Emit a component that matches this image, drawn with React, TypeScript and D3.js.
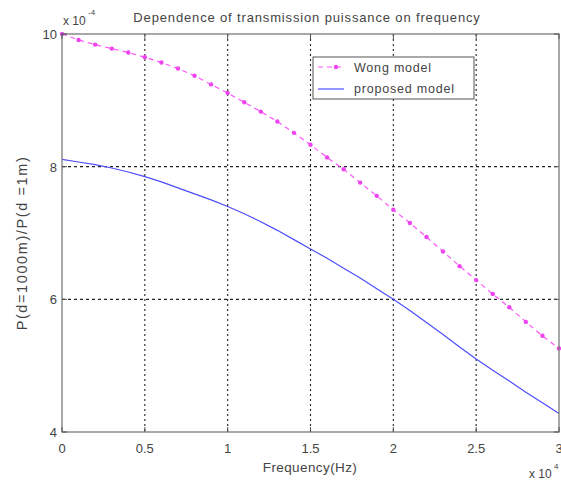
import React from "react";
import * as d3 from "d3";

// Frequency samples (×10^4 Hz) and power ratios (×10^-4)
const freq: number[] = d3.range(0, 31).map((i) => i / 10);
const wongModel: number[] = [
  10.0, 9.91, 9.84, 9.78, 9.72, 9.65, 9.57, 9.48, 9.37, 9.24, 9.11, 8.97, 8.83,
  8.68, 8.51, 8.33, 8.14, 7.96, 7.76, 7.56, 7.35, 7.15, 6.94, 6.72, 6.5, 6.29,
  6.08, 5.88, 5.66, 5.45, 5.26,
];
const proposedModel: number[] = [
  8.11, 8.07, 8.03, 7.98, 7.92, 7.85, 7.77, 7.68, 7.59, 7.5, 7.4, 7.29, 7.17,
  7.04, 6.9, 6.76, 6.62, 6.47, 6.32, 6.16, 6.0, 5.83, 5.65, 5.47, 5.28, 5.1,
  4.93, 4.77, 4.6, 4.44, 4.28,
];
const xTicks: number[] = [0, 0.5, 1, 1.5, 2, 2.5, 3];
const xTickLabels: string[] = ["0", "0.5", "1", "1.5", "2", "2.5", "3"];
const yTicks: number[] = [4, 6, 8, 10];
const yTickLabels: string[] = ["4", "6", "8", "10"];

const W = 561;
const H = 482;
const left = 62;
const right = 559;
const top = 34;
const bottom = 432;
const font = "'Liberation Sans', Arial, sans-serif";
const textColor = "#444";

export default function App() {
  const x = d3.scaleLinear().domain([0, 3]).range([left, right]);
  const y = d3.scaleLinear().domain([4, 10]).range([bottom, top]);

  const line = d3
    .line<number>()
    .x((_, i) => x(freq[i]))
    .y((d) => y(d));

  const wongPath = line(wongModel) || "";
  const propPath = line(proposedModel) || "";

  return (
    <svg
      width={W}
      height={H}
      style={{ position: "absolute", left: 0, top: 0, background: "#fff" }}
    >
      <rect x={0} y={0} width={W} height={H} fill="#fff" />

      {/* grid */}
      {xTicks.slice(1, -1).map((t) => (
        <line
          key={"gx" + t}
          x1={x(t)}
          x2={x(t)}
          y1={top}
          y2={bottom}
          stroke="#222"
          strokeWidth={1.1}
          strokeDasharray="2,3"
        />
      ))}
      {yTicks.slice(1, -1).map((t) => (
        <line
          key={"gy" + t}
          x1={left}
          x2={right}
          y1={y(t)}
          y2={y(t)}
          stroke="#222"
          strokeWidth={1.1}
          strokeDasharray="3,3"
        />
      ))}

      {/* series */}
      <path d={propPath} fill="none" stroke="#4d4dff" strokeWidth={1.2} />
      <path
        d={wongPath}
        fill="none"
        stroke="#ff55ff"
        strokeWidth={1.2}
        strokeDasharray="5,4"
      />
      {wongModel.map((v, i) => (
        <circle key={"wm" + i} cx={x(freq[i])} cy={y(v)} r={2.2} fill="#ee44ee" />
      ))}

      {/* axes box */}
      <rect
        x={left}
        y={top}
        width={right - left}
        height={bottom - top}
        fill="none"
        stroke="#7a7a7a"
        strokeWidth={1.3}
      />
      {xTicks.map((t) => (
        <g key={"tx" + t}>
          <line x1={x(t)} x2={x(t)} y1={bottom} y2={bottom - 5} stroke="#555" />
          <line x1={x(t)} x2={x(t)} y1={top} y2={top + 5} stroke="#555" />
        </g>
      ))}
      {yTicks.map((t) => (
        <g key={"ty" + t}>
          <line x1={left} x2={left + 5} y1={y(t)} y2={y(t)} stroke="#555" />
          <line x1={right} x2={right - 5} y1={y(t)} y2={y(t)} stroke="#555" />
        </g>
      ))}

      {/* tick labels */}
      {xTicks.map((t, i) => (
        <text
          key={"lx" + t}
          x={x(t)}
          y={453}
          textAnchor="middle"
          fontFamily={font}
          fontSize={13}
          fill={textColor}
        >
          {xTickLabels[i]}
        </text>
      ))}
      {yTicks.map((t, i) => (
        <text
          key={"ly" + t}
          x={57}
          y={y(t) + 5}
          textAnchor="end"
          fontFamily={font}
          fontSize={13}
          fill={textColor}
        >
          {yTickLabels[i]}
        </text>
      ))}

      {/* exponents */}
      <text x={63} y={25} fontFamily={font} fontSize={12} fill={textColor}>
        x 10
      </text>
      <text x={88} y={15} fontFamily={font} fontSize={8} fill={textColor}>
        -4
      </text>
      <text x={529} y={478} fontFamily={font} fontSize={12} fill={textColor}>
        x 10
      </text>
      <text x={554} y={469} fontFamily={font} fontSize={8} fill={textColor}>
        4
      </text>

      {/* title and labels */}
      <text
        x={307}
        y={22}
        textAnchor="middle"
        fontFamily={font}
        fontSize={13}
        letterSpacing={0.85}
        fill={textColor}
      >
        Dependence of transmission puissance on frequency
      </text>
      <text
        x={310}
        y={472}
        textAnchor="middle"
        fontFamily={font}
        fontSize={13.5}
        letterSpacing={0.4}
        fill={textColor}
      >
        Frequency(Hz)
      </text>
      <text
        transform={`translate(27,${243}) rotate(-90)`}
        textAnchor="middle"
        fontFamily={font}
        fontSize={14.5}
        letterSpacing={1.6}
        fill={textColor}
      >
        P(d=1000m)/P(d =1m)
      </text>

      {/* legend */}
      <rect
        x={313}
        y={57}
        width={161}
        height={42}
        fill="#fff"
        stroke="#555"
        strokeWidth={1}
      />
      <line
        x1={318}
        x2={344}
        y1={67}
        y2={67}
        stroke="#ff55ff"
        strokeWidth={1.2}
        strokeDasharray="5,4"
      />
      <circle cx={336} cy={67} r={2.2} fill="#ee44ee" />
      <text
        x={354}
        y={72}
        fontFamily={font}
        fontSize={12.5}
        letterSpacing={0.8}
        fill={textColor}
      >
        Wong model
      </text>
      <line x1={318} x2={344} y1={89} y2={89} stroke="#4d4dff" strokeWidth={1.2} />
      <text
        x={354}
        y={93}
        fontFamily={font}
        fontSize={12.5}
        letterSpacing={0.8}
        fill={textColor}
      >
        proposed model
      </text>
    </svg>
  );
}
